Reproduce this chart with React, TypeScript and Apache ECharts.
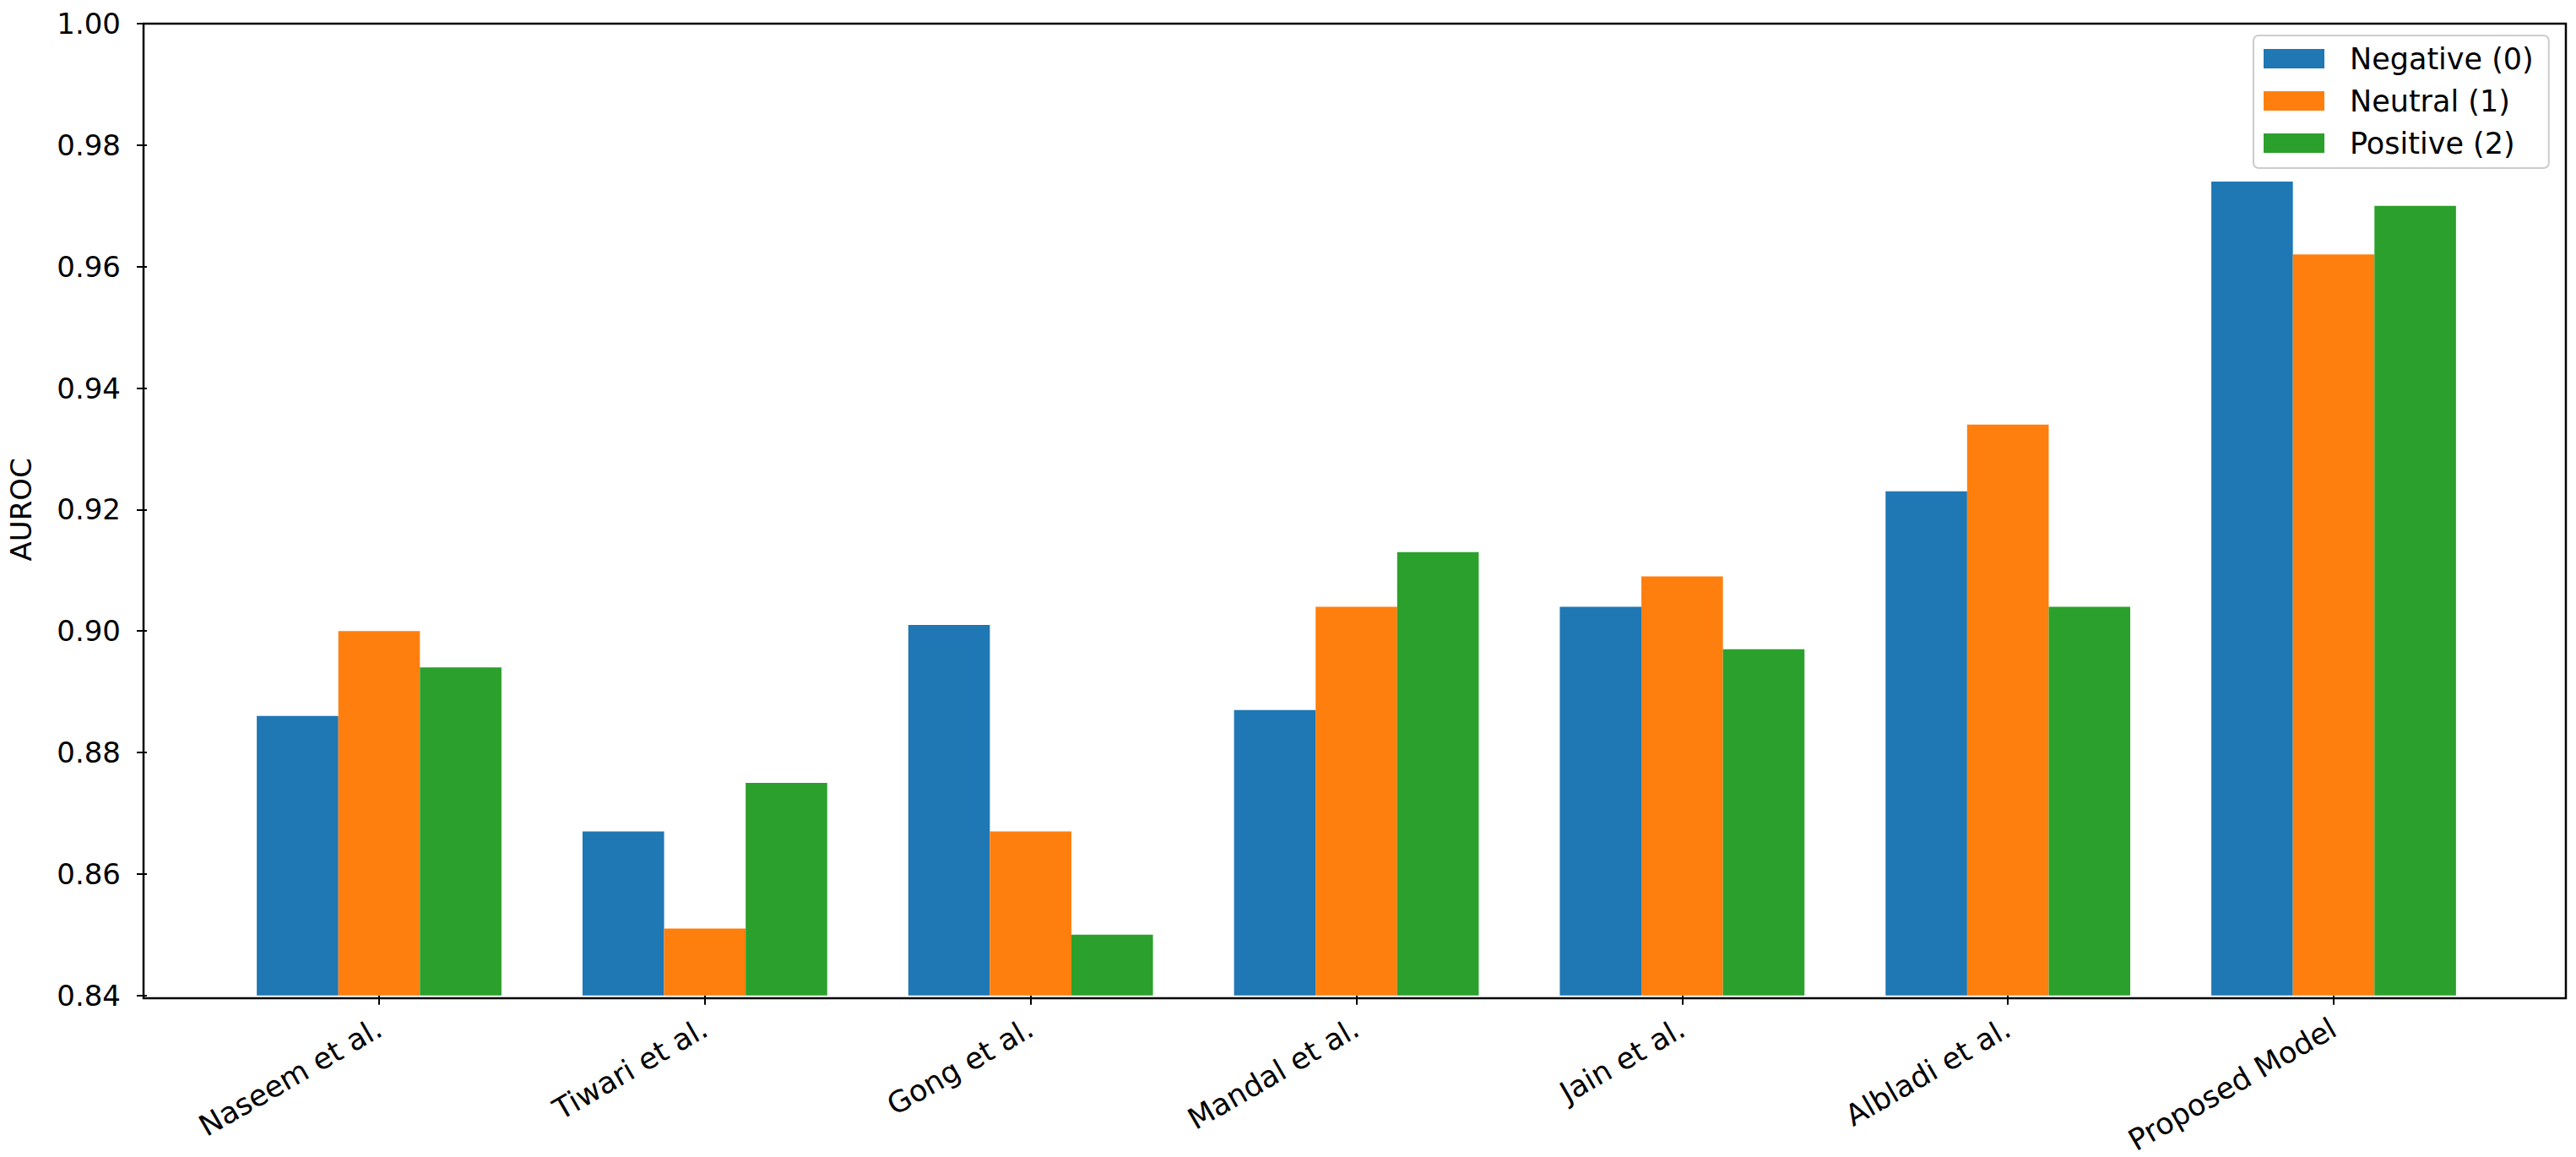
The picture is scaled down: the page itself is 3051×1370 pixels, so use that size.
import React, { useEffect, useRef } from "react";
import * as echarts from "echarts";

// ---- data ----
const categories = [
  "Naseem et al.",
  "Tiwari et al.",
  "Gong et al.",
  "Mandal et al.",
  "Jain et al.",
  "Albladi et al.",
  "Proposed Model",
];
const seriesNames = ["Negative (0)", "Neutral (1)", "Positive (2)"];
const negativeVals = [0.886, 0.867, 0.901, 0.887, 0.904, 0.923, 0.974];
const neutralVals = [0.9, 0.851, 0.867, 0.904, 0.909, 0.934, 0.962];
const positiveVals = [0.894, 0.875, 0.85, 0.913, 0.897, 0.904, 0.97];
const yMin = 0.84;
const yMax = 1.0;
const yStep = 0.02;
const yLabel = "AUROC";

// ---- styling / layout ----
const colors = ["#1f77b4", "#ff7f0e", "#2ca02c"];
const W = 3051;
const H = 1370;
const plotL = 170;
const plotR = 3039;
const plotT = 28;
const plotB = 1182;
const FONT = "DejaVu Sans";

export default function App() {
  const ref = useRef<HTMLDivElement>(null);

  useEffect(() => {
    if (!ref.current) return;
    const chart = echarts.init(ref.current, undefined, { renderer: "svg" });

    const n = categories.length;
    const groupW = 0.75; // 3 bars of 0.25
    const span = n - 1 + groupW;
    const margin = 0.05 * span;
    const range = span * 1.1;
    const unit = (plotR - plotL) / range;
    const inset = (groupW / 2 + margin - 0.5) * unit;
    const barW = 0.25 * unit;

    const allVals = [negativeVals, neutralVals, positiveVals];

    chart.setOption({
      animation: false,
      backgroundColor: "#ffffff",
      textStyle: { fontFamily: FONT },
      grid: {
        left: plotL + inset,
        right: W - plotR + inset,
        top: plotT,
        bottom: H - plotB,
        containLabel: false,
      },
      legend: {
        orient: "vertical",
        left: 2669,
        top: 42,
        icon: "rect",
        itemWidth: 72,
        itemHeight: 23,
        itemGap: 15,
        padding: [10, 18, 12, 12],
        backgroundColor: "rgba(255,255,255,0.8)",
        borderColor: "#cccccc",
        borderWidth: 2,
        borderRadius: 6,
        data: seriesNames,
        textStyle: {
          fontFamily: FONT,
          fontSize: 35,
          color: "#000000",
          padding: [0, 0, 0, 25],
        },
      },
      xAxis: {
        type: "category",
        data: categories,
        axisLine: { show: false },
        axisTick: {
          show: true,
          alignWithLabel: true,
          length: 11,
          lineStyle: { color: "#000000", width: 2 },
        },
        axisLabel: {
          interval: 0,
          rotate: 30,
          margin: 36,
          fontFamily: FONT,
          fontSize: 35,
          color: "#000000",
        },
        splitLine: { show: false },
      },
      yAxis: {
        type: "value",
        min: yMin,
        max: yMax,
        interval: yStep,
        offset: inset,
        name: yLabel,
        nameLocation: "middle",
        nameGap: 132,
        nameRotate: 90,
        nameTextStyle: { fontFamily: FONT, fontSize: 34, color: "#000000" },
        axisLine: { show: false },
        axisTick: {
          show: true,
          length: 12,
          lineStyle: { color: "#000000", width: 2 },
        },
        axisLabel: {
          margin: 31,
          fontFamily: FONT,
          fontSize: 34,
          color: "#000000",
          formatter: (v: number) => v.toFixed(2),
        },
        splitLine: { show: false },
      },
      series: seriesNames.map((name, i) => ({
        name,
        type: "bar",
        data: allVals[i],
        barWidth: barW,
        barGap: "0%",
        clip: true,
        itemStyle: { color: colors[i] },
      })),
      graphic: [
        {
          type: "rect",
          z: 100,
          silent: true,
          shape: { x: plotL, y: plotT, width: plotR - plotL, height: plotB - plotT },
          style: { fill: "none", stroke: "#000000", lineWidth: 2.5 },
        },
      ],
    });

    return () => {
      chart.dispose();
    };
  }, []);

  return (
    <div
      ref={ref}
      style={{ position: "absolute", left: 0, top: 0, width: W, height: H, background: "#fff" }}
    />
  );
}
